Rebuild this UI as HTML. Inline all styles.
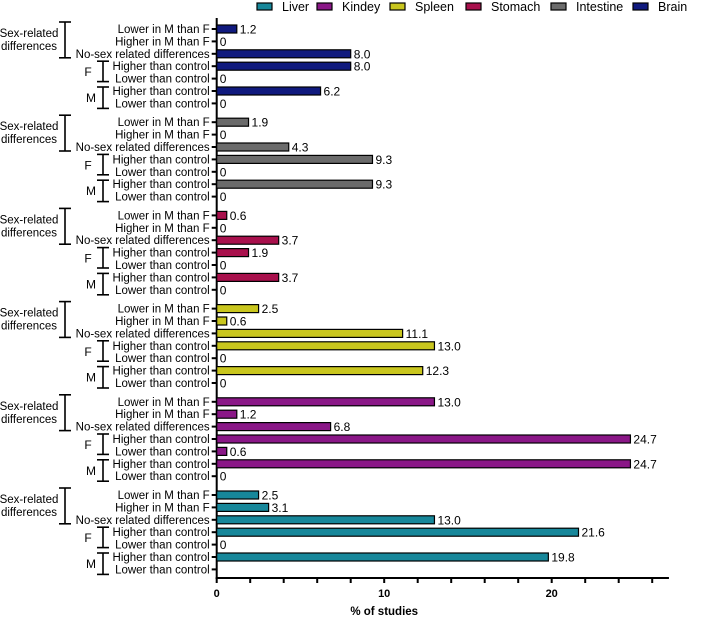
<!DOCTYPE html>
<html><head><meta charset="utf-8"><style>
html,body{margin:0;padding:0;background:#fff;}
svg{display:block;font-family:"Liberation Sans",sans-serif;}
</style></head><body>
<svg id="chart" width="709" height="618"></svg>
<script>
const organs = ["Brain","Intestine","Stomach","Spleen","Kindey","Liver"];
const colors = ["#101a7e","#6b6b6b","#a8104c","#c9c61e","#8a1787","#17879a"];
const rowLabels = ["Lower in M than F","Higher in M than F","No-sex related differences","Higher than control","Lower than control","Higher than control","Lower than control"];
const brainVals = [1.2,0,8.0,8.0,0,6.2,0];
const intestineVals = [1.9,0,4.3,9.3,0,9.3,0];
const stomachVals = [0.6,0,3.7,1.9,0,3.7,0];
const spleenVals = [2.5,0.6,11.1,13.0,0,12.3,0];
const kidneyVals = [13.0,1.2,6.8,24.7,0.6,24.7,0];
const liverVals = [2.5,3.1,13.0,21.6,0,19.8,null];
const xTicks = [0,10,20];
const legendOrder = ["Liver","Kindey","Spleen","Stomach","Intestine","Brain"];

const series = [brainVals,intestineVals,stomachVals,spleenVals,kidneyVals,liverVals];
const NS="http://www.w3.org/2000/svg";
const svg=document.getElementById('chart');
function mk(t,a,p){const e=document.createElementNS(NS,t);for(const k in a)e.setAttribute(k,a[k]);(p||svg).appendChild(e);return e;}
const x0=216.7, pxPer=16.75, xMax=27;
const xs=v=>x0+v*pxPer;
const ys=(g,r)=>29+g*93.2+r*12.4;
const axisY=578;

// axes
let ax=mk('line',{x1:x0,y1:18,x2:x0,y2:axisY+1,stroke:'#000','stroke-width':2});


let bx=mk('line',{x1:x0-1,y1:axisY,x2:xs(xMax),y2:axisY,stroke:'#000','stroke-width':2});


for(let v=0;v<=26;v+=2){
  let t=mk('line',{x1:xs(v),y1:axisY,x2:xs(v),y2:axisY+5,stroke:'#000','stroke-width':2});
  
  
}
xTicks.forEach(v=>{
  let t=mk('text',{x:xs(v),y:axisY+19,'text-anchor':'middle','font-size':11,'font-weight':'bold'});
  t.textContent=v;
  
  
});
let xt=mk('text',{x:xs(10),y:615,'text-anchor':'middle','font-size':11.5,'font-weight':'bold'});
xt.textContent='% of studies';



series.forEach((vals,g)=>{
  rowLabels.forEach((lab,r)=>{
    const y=ys(g,r);
    let tk=mk('line',{x1:x0-5,y1:y,x2:x0,y2:y,stroke:'#000','stroke-width':2});
    
    
    let t=mk('text',{x:x0-7,y:y+4,'text-anchor':'end','font-size':11.5});
    t.textContent=lab;
    
    
    const v=vals[r];
    if(v===null) return;
    if(v>0){
      let b=mk('rect',{x:x0,y:y-4,width:xs(v)-x0,height:8,fill:colors[g],stroke:'#000','stroke-width':1.2});
      
      
    }
    let vl=mk('text',{x:xs(v)+3,y:y+4.5,'font-size':12});
    vl.textContent=v===0?'0':v.toFixed(1);
    
    
  });
  // brackets
  const gt=ys(g,0), bk=mk('g',{stroke:'#000','stroke-width':1.6});
  
  
  mk('line',{x1:65,y1:gt-7,x2:65,y2:ys(g,2)+4},bk);
  mk('line',{x1:59,y1:gt-7,x2:71,y2:gt-7},bk);
  mk('line',{x1:59,y1:ys(g,2)+4,x2:71,y2:ys(g,2)+4},bk);
  const fT=ys(g,3)-5,fB=ys(g,4)+3,mT=ys(g,5)-4,mB=ys(g,6)+5;
  mk('line',{x1:103,y1:fT,x2:103,y2:fB},bk);
  mk('line',{x1:97,y1:fT,x2:109,y2:fT},bk);
  mk('line',{x1:97,y1:fB,x2:109,y2:fB},bk);
  mk('line',{x1:103,y1:mT,x2:103,y2:mB},bk);
  mk('line',{x1:97,y1:mT,x2:109,y2:mT},bk);
  mk('line',{x1:97,y1:mB,x2:109,y2:mB},bk);
  let s1=mk('text',{x:29,y:gt+8,'text-anchor':'middle','font-size':11.5});
  s1.textContent='Sex-related';
  
  
  let s2=mk('text',{x:29,y:gt+21,'text-anchor':'middle','font-size':11.5});
  s2.textContent='differences';
  
  
  let f=mk('text',{x:88,y:ys(g,3)+10,'text-anchor':'middle','font-size':12});
  f.textContent='F';
  
  
  let m=mk('text',{x:91,y:ys(g,5)+11,'text-anchor':'middle','font-size':12});
  m.textContent='M';
  
  
});

// legend
const legX=[257,317,390,466,551,633];
legendOrder.forEach((n,i)=>{
  const ci=organs.indexOf(n);
  const lg=mk('g',{});
  
  
  mk('rect',{x:legX[i],y:3,width:15,height:7,fill:colors[ci],stroke:'#000','stroke-width':1.2},lg);
  const t=mk('text',{x:legX[i]+25,y:11,'font-size':12.5},lg);
  t.textContent=n;
});
</script>
</body></html>
